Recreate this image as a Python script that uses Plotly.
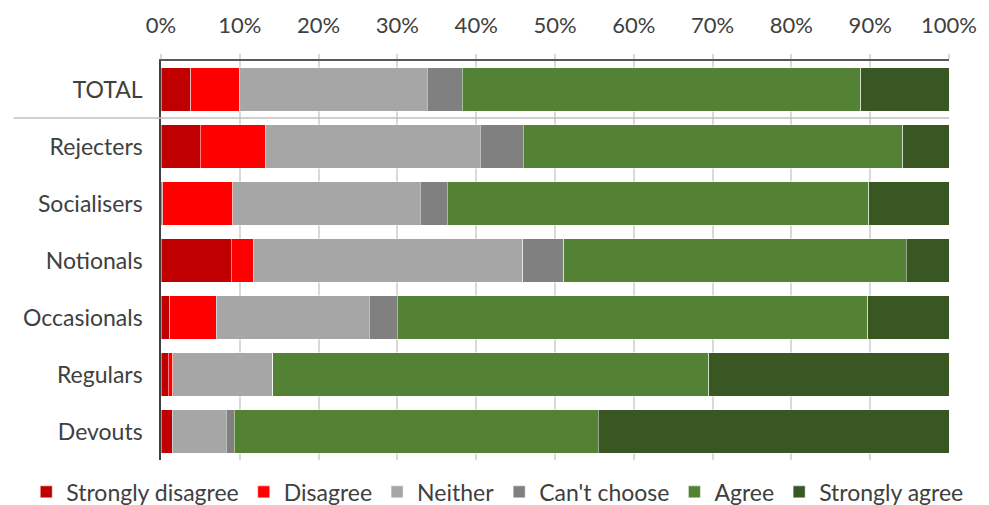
import plotly.graph_objects as go

groups = ["TOTAL", "Rejecters", "Socialisers", "Notionals", "Occasionals", "Regulars", "Devouts"]
series_names = ["Strongly disagree", "Disagree", "Neither", "Can't choose", "Agree", "Strongly agree"]
strongly_disagree = [3.8, 5.0, 0.2, 8.9, 1.1, 0.9, 1.4]
disagree = [6.1, 8.2, 8.9, 2.8, 5.9, 0.6, 0.0]
neither = [23.9, 27.3, 23.8, 34.2, 19.4, 12.7, 6.9]
cant_choose = [4.4, 5.5, 3.4, 5.2, 3.6, 0.0, 1.0]
agree = [50.6, 48.1, 53.5, 43.5, 59.7, 55.3, 46.2]
strongly_agree = [11.2, 5.9, 10.2, 5.4, 10.3, 30.5, 44.5]
colors = ["#C00000", "#FF0000", "#A6A6A6", "#808080", "#548235", "#385723"]
tick_vals = [0, 10, 20, 30, 40, 50, 60, 70, 80, 90, 100]

all_series = [strongly_disagree, disagree, neither, cant_choose, agree, strongly_agree]

fig = go.Figure()
for name, vals, col in zip(series_names, all_series, colors):
    fig.add_trace(go.Bar(
        y=groups, x=vals, name=name, orientation="h",
        marker=dict(color=col, line=dict(color="rgba(255,255,255,0.6)", width=0.8)),
        width=0.76, hoverinfo="x+y+name",
    ))

font_family = "Lato, 'Open Sans', sans-serif"
fig.update_layout(
    barmode="stack",
    width=989, height=505,
    margin=dict(l=161, r=40, t=61, b=45, autoexpand=False),
    paper_bgcolor="white", plot_bgcolor="white",
    font=dict(family=font_family, size=22, color="#404040"),
    legend=dict(orientation="h", x=-0.171, xanchor="left", y=-0.08, yanchor="middle",
                font=dict(size=23, color="#404040"), itemwidth=30, traceorder="normal",
                tracegroupgap=0),
    showlegend=True,
    bargap=0.24,
)
fig.update_xaxes(
    side="top", range=[0, 100], tickvals=tick_vals,
    ticktext=[f"{v}%" for v in tick_vals],
    showgrid=True, gridcolor="#D9D9D9", gridwidth=1.5,
    showline=True, linecolor="#595959", linewidth=1.5,
    ticks="outside", ticklen=5, tickcolor="#D9D9D9", tickwidth=1.5,
    ticklabelstandoff=12,
    tickfont=dict(size=22, color="#404040"), zeroline=False, fixedrange=True,
)
fig.update_yaxes(
    categoryorder="array", categoryarray=groups, autorange="reversed",
    showline=True, linecolor="#404040", linewidth=1.5,
    ticks="", ticklabelstandoff=12,
    tickfont=dict(size=23, color="#404040"), fixedrange=True,
)
# separator between TOTAL and the groups
fig.add_shape(type="line", xref="paper", yref="y",
              x0=-0.187, x1=1.0, y0=0.5, y1=0.5,
              line=dict(color="#BFBFBF", width=1.5), layer="above")

fig.write_html("out.html")
